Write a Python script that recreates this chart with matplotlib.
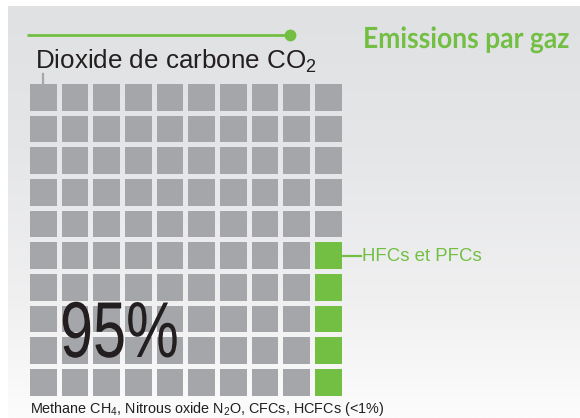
import numpy as np
import matplotlib
matplotlib.use("Agg")
import matplotlib.pyplot as plt
from matplotlib.patches import Rectangle
from matplotlib.patheffects import AbstractPathEffect
from matplotlib.transforms import Affine2D

# ---------------- data ----------------
categories = ["Dioxide de carbone CO$_2$", "HFCs et PFCs"]
shares = [95, 5]                      # percent -> squares in a 10x10 waffle
other_label = "Methane CH$_4$, Nitrous oxide N$_2$O, CFCs, HCFCs (<1%)"
headline = "95%"
title = "Emissions par gaz"
n_rows, n_cols = 10, 10

# ---------------- style ----------------
GRAY = "#a5a6aa"
GREEN = "#72bf44"
TXT = "#231f20"
colors = [GRAY, GREEN]

plt.rcParams["mathtext.fontset"] = "custom"
plt.rcParams["mathtext.rm"] = "Liberation Sans"
plt.rcParams["mathtext.it"] = "Liberation Sans:italic"
plt.rcParams["mathtext.bf"] = "Liberation Sans:bold"
plt.rcParams["font.family"] = ["Liberation Sans", "DejaVu Sans"]


class HScale(AbstractPathEffect):
    """Condense glyphs horizontally around a pivot (display pixels)."""
    def __init__(self, sx, x0):
        super().__init__()
        self.sx = sx
        self.x0 = x0

    def draw_path(self, renderer, gc, tpath, affine, rgbFace=None):
        aff = affine + Affine2D().translate(-self.x0, 0).scale(self.sx, 1).translate(self.x0, 0)
        renderer.draw_path(gc, tpath, aff, rgbFace)


W, H = 580, 418
fig = plt.figure(figsize=(W / 100, H / 100), dpi=100, facecolor="white")

# background / annotation layer in pixel coordinates
bg = fig.add_axes([0, 0, 1, 1])
bg.set_xlim(0, W)
bg.set_ylim(H, 0)
bg.axis("off")

ypos = np.array([6, 150, 300, 418])
stops = np.array([[224, 225, 227], [229, 230, 232], [240, 240, 241], [252, 252, 252]]) / 255
yy = np.linspace(6, 418, 412)
grad = np.stack([np.interp(yy, ypos, stops[:, k]) for k in range(3)], axis=-1)
grad = np.repeat(grad[:, None, :], 2, axis=1)
bg.imshow(grad, extent=(8, W, H, 6), origin="upper", aspect="auto",
          interpolation="bilinear", zorder=0)
bg.set_xlim(0, W)
bg.set_ylim(H, 0)

# ---------------- waffle ----------------
gx0, gx1, gy0, gy1 = 30, 341.7, 84, 395.7
sq = 0.843
wa = fig.add_axes([gx0 / W, 1 - gy1 / H, (gx1 - gx0) / W, (gy1 - gy0) / H])
wa.set_xlim(0, n_cols - 1 + sq)
wa.set_ylim(n_rows - 1 + sq, 0)
wa.axis("off")
wa.patch.set_alpha(0)

bounds = np.cumsum(shares)
for i in range(n_rows * n_cols):
    cat = int(np.searchsorted(bounds, i, side="right"))
    if cat >= len(shares):
        break
    col, row = divmod(i, n_rows)
    wa.add_patch(Rectangle((col, row), sq, sq, facecolor=colors[cat], edgecolor="none"))

# ---------------- annotations ----------------
# top green leader with dot
bg.plot([27, 290], [35, 35], color=GREEN, lw=2.0, solid_capstyle="butt", zorder=3)
bg.plot([290], [35], "o", color=GREEN, ms=7.5, zorder=3)

title_x, title_y = 569, 48
t = bg.text(title_x, title_y, title, ha="right", va="baseline", color=GREEN,
            family=["Lato", "DejaVu Sans"], fontweight="bold", fontsize=21)

bg.text(35, 68.3, categories[0], ha="left", va="baseline", color=TXT,
        fontsize=18.7)
bg.plot([43.3, 43.3], [74, 84], color=GRAY, lw=1.6, zorder=3)

# HFC leader
hfc_y = 255.5
bg.plot([341.7, 360.5], [hfc_y, hfc_y], color=GREEN, lw=1.6, zorder=3)
bg.text(362.5, 260.7, categories[1], ha="left", va="baseline", color=GREEN,
        fontsize=13.4)

# big headline, drawn in the waffle axes (above the squares), positioned in pixels
big_x, big_y = 60, 357
big = wa.text(big_x, big_y, headline, transform=bg.transData, ha="left",
              va="baseline", color=TXT, fontsize=57, zorder=5)
big_disp_x = bg.transData.transform((big_x, big_y))[0]
big.set_path_effects([HScale(0.75, big_disp_x)])

bg.text(29.5, 412.5, other_label, ha="left", va="baseline", color=TXT, fontsize=10.35)

# condense title to the reference width
fig.canvas.draw()
r = fig.canvas.get_renderer()
w = t.get_window_extent(r).width
t.set_path_effects([HScale(min(1.0, 206 / w), bg.transData.transform((title_x, title_y))[0])])

fig.savefig("out.png", dpi=100, facecolor="white")
